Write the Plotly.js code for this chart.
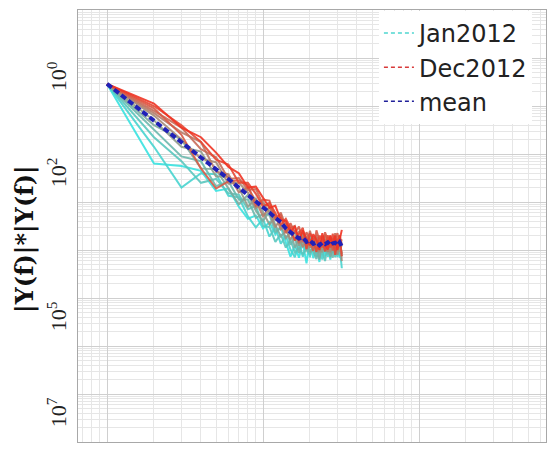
<!DOCTYPE html>
<html>
<head>
<meta charset="utf-8">
<script src="https://cdn.plot.ly/plotly-3.0.1.min.js"></script>
<style>html,body{margin:0;padding:0;background:#fff;}#chart{width:549px;height:461px;}</style>
</head>
<body>
<div id="chart"></div>
<script>
// frequency index (x)
var freq = [1,2,3,4,5,6,7,8,9,10,11,12,13,14,15,16,17,18,19,20,21,22,23,24,25,26,27,28,29,30,31,32];

// log10 of |Y(f)|*|Y(f)| for each month
var jan = [-0.54,-2.20,-2.25,-2.35,-2.77,-2.72,-3.10,-3.35,-3.28,-3.55,-3.42,-3.68,-3.52,-3.85,-4.14,-3.90,-4.16,-3.84,-4.28,-3.75,-4.17,-3.94,-4.25,-3.75,-4.13,-3.84,-4.20,-3.81,-4.05,-3.95,-4.14,-4.18];
var feb = [-0.54,-1.85,-2.70,-2.40,-2.42,-2.87,-2.90,-3.30,-3.53,-3.35,-3.72,-3.53,-3.87,-3.70,-3.99,-4.15,-3.86,-4.14,-3.83,-4.15,-3.77,-4.14,-3.95,-4.20,-3.83,-4.14,-4.00,-4.06,-3.80,-4.15,-3.94,-4.38];
var mar = [-0.54,-1.65,-2.15,-2.60,-2.52,-2.82,-2.85,-3.15,-3.08,-3.50,-3.52,-3.83,-3.67,-3.95,-3.79,-4.05,-3.96,-4.09,-3.98,-4.10,-3.92,-4.09,-3.85,-4.05,-4.23,-3.84,-4.10,-3.76,-4.15,-4.00,-4.09,-4.03];
var apr = [-0.54,-1.50,-2.05,-2.15,-2.67,-2.57,-2.95,-2.95,-3.33,-3.25,-3.27,-3.63,-3.52,-3.50,-3.89,-3.75,-4.06,-3.69,-4.03,-3.70,-4.02,-4.19,-3.90,-4.00,-3.78,-4.09,-3.95,-4.16,-3.80,-4.05,-3.74,-4.13];
var may = [-0.54,-1.40,-1.70,-2.30,-2.32,-2.72,-3.05,-2.85,-3.18,-3.40,-3.17,-3.48,-3.72,-3.60,-3.59,-3.95,-3.76,-3.94,-3.73,-4.05,-3.92,-3.79,-4.20,-3.85,-4.03,-3.74,-4.15,-3.91,-4.05,-3.85,-3.99,-3.98];
var jun = [-0.54,-1.30,-1.85,-1.95,-2.47,-2.47,-2.70,-3.10,-2.93,-3.20,-3.47,-3.28,-3.47,-3.75,-3.64,-3.65,-3.91,-3.64,-3.98,-3.80,-3.77,-4.04,-3.85,-4.05,-3.78,-3.94,-3.80,-4.01,-3.85,-3.80,-4.04,-3.88];
var jul = [-0.54,-1.20,-1.70,-2.10,-2.17,-2.62,-2.60,-2.80,-3.13,-3.00,-3.22,-3.53,-3.32,-3.55,-3.79,-3.60,-3.71,-3.94,-3.78,-3.90,-3.72,-3.89,-4.05,-3.75,-3.98,-3.79,-4.05,-3.76,-3.90,-4.10,-3.79,-4.23];
var aug = [-0.54,-1.15,-1.55,-1.75,-2.37,-2.42,-2.80,-2.70,-2.98,-3.30,-3.12,-3.28,-3.57,-3.45,-3.59,-3.80,-3.61,-3.79,-3.73,-3.95,-3.82,-3.74,-4.00,-3.70,-3.93,-4.04,-3.80,-3.86,-3.70,-4.00,-3.84,-4.08];
var sep = [-0.54,-1.10,-1.45,-1.90,-2.07,-2.52,-2.50,-2.75,-2.73,-3.05,-3.07,-3.38,-3.22,-3.50,-3.54,-3.50,-3.86,-3.59,-3.88,-3.60,-3.87,-3.69,-3.95,-3.80,-3.68,-3.94,-3.75,-3.96,-3.65,-3.90,-3.69,-3.88];
var oct = [-0.54,-1.05,-1.60,-2.30,-2.72,-2.57,-2.55,-2.65,-3.08,-2.95,-2.97,-3.33,-3.27,-3.65,-3.44,-3.65,-3.51,-3.84,-3.63,-3.80,-4.02,-3.59,-3.80,-3.95,-3.63,-3.79,-3.70,-4.01,-3.75,-3.65,-3.89,-3.78];
var nov = [-0.54,-1.00,-1.40,-1.75,-2.12,-2.22,-2.60,-2.60,-2.83,-3.10,-3.02,-3.23,-3.47,-3.35,-3.54,-3.80,-3.66,-3.54,-3.98,-3.65,-3.77,-4.04,-3.70,-3.80,-4.03,-3.69,-3.95,-3.66,-4.10,-3.80,-3.69,-4.13];
var dec = [-0.54,-0.95,-1.45,-1.65,-1.97,-2.27,-2.40,-2.70,-2.68,-2.90,-3.12,-3.08,-3.37,-3.40,-3.64,-3.50,-3.81,-3.59,-3.78,-3.90,-3.67,-3.79,-4.00,-3.65,-3.88,-3.99,-3.70,-3.91,-3.70,-4.00,-3.79,-3.58];
var meanLog = [-0.54,-1.30,-1.75,-2.05,-2.32,-2.52,-2.70,-2.85,-2.98,-3.10,-3.22,-3.33,-3.42,-3.55,-3.64,-3.70,-3.76,-3.74,-3.83,-3.80,-3.87,-3.84,-3.90,-3.85,-3.88,-3.84,-3.90,-3.86,-3.85,-3.90,-3.84,-3.93];

var monthNames = ['Jan2012','Feb2012','Mar2012','Apr2012','May2012','Jun2012','Jul2012','Aug2012','Sep2012','Oct2012','Nov2012','Dec2012'];
var monthSeries = [jan,feb,mar,apr,may,jun,jul,aug,sep,oct,nov,dec];

// y tick labels (exponent position and text as shown)
var tickExps = [0,-2,-5,-7];
var tickTexts = ['10<sup>0</sup>','10<sup>2</sup>','10<sup>5</sup>','10<sup>7</sup>'];
var yTitle = '|Y(f)|*|Y(f)|';

// styles
var monthColors = ['#38e2e0','#48d4cf','#5ac6be','#6cb8ad','#7eaa9c','#909c8b','#a48c7a','#b67c69','#c86c58','#d85a46','#e64834','#f03424'];

function pow10(a){ return a.map(function(e){ return Math.pow(10, e); }); }

var traces = [];
monthSeries.forEach(function(s, i){
  traces.push({x: freq, y: pow10(s), type: 'scatter', mode: 'lines', name: monthNames[i],
    line: {color: monthColors[i], width: 2}, opacity: 0.9, showlegend: false, hoverinfo: 'skip'});
});
traces.push({x: freq, y: pow10(meanLog), type: 'scatter', mode: 'lines', name: 'mean',
  line: {color: '#2020b8', width: 4, dash: '6px,3px'}, showlegend: false});
// legend entries (dashed samples as in the reference)
var legendItems = [
  {name: 'Jan2012', color: '#4fd6d0'},
  {name: 'Dec2012', color: '#d83a3a'},
  {name: 'mean', color: '#20209a'}
];
legendItems.forEach(function(it, i){
  traces.push({x: [null], y: [null], type: 'scatter', mode: 'lines', name: it.name,
    legendgroup: 'g' + i, line: {color: it.color, width: 1.5, dash: '4px,3px'}});
});

var annotations = tickExps.map(function(e, i){
  return {xref: 'paper', yref: 'y', x: -0.045, y: e - 0.38, text: tickTexts[i], showarrow: false,
    textangle: -90, xanchor: 'center', yanchor: 'middle',
    font: {family: 'Liberation Serif', size: 22, color: '#222'}};
});
annotations.push({xref: 'paper', yref: 'paper', x: -0.113, y: 0.47, text: '<b>' + yTitle + '</b>', showarrow: false,
  textangle: -90, xanchor: 'center', yanchor: 'middle',
  font: {family: 'DejaVu Serif', size: 24, color: '#111'}});

var axisCommon = {
  type: 'log', dtick: 1, showticklabels: false, ticks: '',
  showgrid: true, gridcolor: '#cfcfcf', gridwidth: 1,
  minor: {dtick: 'D1', showgrid: true, gridcolor: '#e6e6e6', gridwidth: 1, ticks: ''},
  showline: true, linecolor: '#a8a8a8', linewidth: 1, mirror: true, zeroline: false
};

var layout = {
  width: 549, height: 461,
  margin: {l: 78, r: 3, t: 10, b: 19, pad: 0},
  paper_bgcolor: '#ffffff', plot_bgcolor: '#ffffff',
  xaxis: Object.assign({}, axisCommon, {range: [-0.186, 2.814]}),
  yaxis: Object.assign({}, axisCommon, {range: [-8, 1]}),
  showlegend: true,
  legend: {x: 0.643, y: 0.998, xanchor: 'left', yanchor: 'top', bgcolor: '#ffffff',
    borderwidth: 0, traceorder: 'grouped', tracegroupgap: 0,
    entrywidth: 130, entrywidthmode: 'pixels',
    font: {family: 'DejaVu Sans', size: 24, color: '#222'}},
  annotations: annotations
};

Plotly.newPlot('chart', traces, layout, {displayModeBar: false, staticPlot: true});
</script>
</body>
</html>
